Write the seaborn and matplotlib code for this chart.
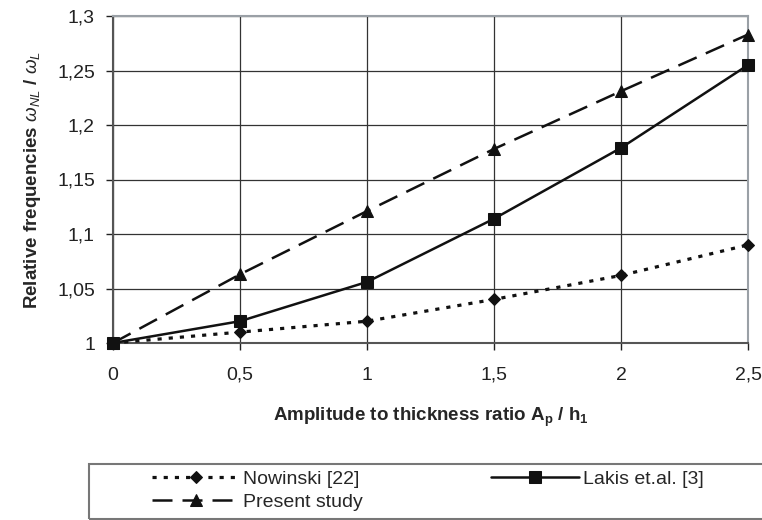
import matplotlib
matplotlib.use("Agg")
import matplotlib.pyplot as plt
from matplotlib.patches import Rectangle
import pandas as pd
import seaborn as sns

# values
ratio = [0, 0.5, 1, 1.5, 2, 2.5]
nowinski = [1.0, 1.01, 1.02, 1.04, 1.062, 1.09]
lakis = [1.0, 1.02, 1.056, 1.114, 1.179, 1.255]
present = [1.0, 1.063, 1.121, 1.178, 1.231, 1.283]

series_names = ["Nowinski [22]", "Lakis et.al. [3]", "Present study"]
x_ticks = [0, 0.5, 1, 1.5, 2, 2.5]
x_tick_labels = ["0", "0,5", "1", "1,5", "2", "2,5"]
y_ticks = [1, 1.05, 1.1, 1.15, 1.2, 1.25, 1.3]
y_tick_labels = ["1", "1,05", "1,1", "1,15", "1,2", "1,25", "1,3"]

df = pd.DataFrame({
    "ratio": ratio * 3,
    "freq": nowinski + lakis + present,
    "series": [n for n in series_names for _ in ratio],
})

sns.set_style("white")
plt.rcParams["font.family"] = ["Liberation Sans", "DejaVu Sans"]
plt.rcParams["mathtext.fontset"] = "custom"
plt.rcParams["mathtext.rm"] = "Liberation Sans"
plt.rcParams["mathtext.it"] = "Liberation Sans:italic"
plt.rcParams["mathtext.bf"] = "Liberation Sans:bold"

fig = plt.figure(figsize=(7.62, 5.2), dpi=100)
ax = fig.add_axes([113 / 762, 1 - 343 / 520, (748 - 113) / 762, (343 - 16) / 520])

styles = {
    "Nowinski [22]": dict(marker="D", ms=6.5, dashes=(1.3, 2.2), lw=2.3),
    "Lakis et.al. [3]": dict(marker="s", ms=8, dashes=(), lw=1.8),
    "Present study": dict(marker="^", ms=8, dashes=(8, 4), lw=1.8),
}
handles = {}
for name in series_names:
    st = styles[name]
    sub = df[df["series"] == name]
    sns.lineplot(data=sub, x="ratio", y="freq", ax=ax, color="#111111",
                 marker=st["marker"], markersize=st["ms"], markeredgecolor="#111111",
                 lw=st["lw"], dashes=st["dashes"],
                 legend=False, clip_on=False, zorder=3)
    handles[name] = ax.lines[-1]

ax.set_xlim(0, 2.5)
ax.set_ylim(1, 1.3)
ax.set_xticks(x_ticks)
ax.set_xticklabels(x_tick_labels)
ax.set_yticks(y_ticks)
ax.set_yticklabels(y_tick_labels)
ax.tick_params(axis="both", labelsize=14, colors="#222222", length=5, width=1,
               direction="out", bottom=True, left=True)
ax.tick_params(axis="x", pad=12)
ax.tick_params(axis="y", pad=8)
ax.grid(True, color="#333333", lw=0.9)
ax.set_axisbelow(True)
for side in ["top", "right"]:
    ax.spines[side].set_color("#9aa0a6")
    ax.spines[side].set_linewidth(1.5)
for side in ["left", "bottom"]:
    ax.spines[side].set_color("#555555")
    ax.spines[side].set_linewidth(1.5)

ax.set_xlabel(r"Amplitude to thickness ratio $\mathbf{A_p}$ / $\mathbf{h_1}$",
              fontsize=13.5, fontweight="bold", labelpad=16)
ax.set_ylabel(r"Relative frequencies $\omega_{NL}$ / $\omega_L$",
              fontsize=13.5, fontweight="bold", labelpad=10)

# legend box below the plot
fig.patches.append(Rectangle((89 / 762, 1 - 519 / 520), (768 - 89) / 762, 55 / 520,
                             transform=fig.transFigure, fill=False,
                             edgecolor="#777777", lw=1.5, clip_on=False))
order = ["Nowinski [22]", "Present study", "Lakis et.al. [3]"]
fig.legend([handles[n] for n in order], order, ncol=2, frameon=False,
           loc="upper left", bbox_to_anchor=(152 / 762, 1 - 470 / 520),
           borderpad=0, borderaxespad=0, handlelength=4.5, handletextpad=0.2,
           columnspacing=6.6, labelspacing=0.3, fontsize=14)

fig.savefig("out.png", dpi=100)
